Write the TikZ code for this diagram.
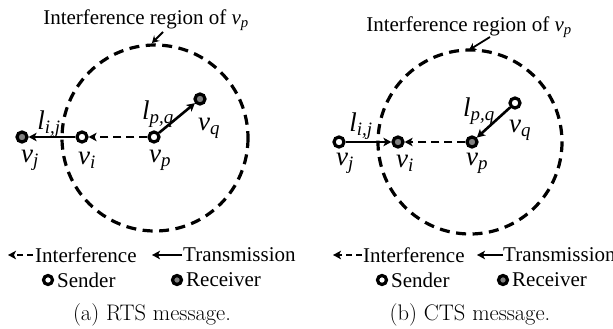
\documentclass[tikz,border=0pt]{standalone}
\usepackage{fontspec}
\usetikzlibrary{arrows.meta}
\newfontfamily\tms{Liberation Serif}
% italic variable with italic subscript
\newcommand{\vsub}[2]{\textit{#1}\textsubscript{\textit{#2}}}
\tikzset{
  nd/.style={circle,draw=black,line width=3.2pt,minimum size=10pt,inner sep=0pt},
  sendernd/.style={nd,fill=white},
  recvnd/.style={nd,fill=gray},
  region/.style={line width=3.2pt,dash pattern=on 10pt off 6.5pt},
  tx/.style={line width=2.6pt,-{Stealth[length=8pt,width=8.5pt,inset=2pt]}},
  intf/.style={line width=2.6pt,dash pattern=on 8pt off 5pt,-{Stealth[length=8pt,width=8.5pt,inset=2pt]}},
  ptr/.style={line width=1.8pt,-{Stealth[length=7pt,width=8pt,inset=2.5pt]}},
  lbl/.style={font=\tms\fontsize{27}{30}\selectfont,inner sep=0pt},
  ttl/.style={font=\tms\fontsize{21}{24}\selectfont,inner sep=0pt},
  leg/.style={font=\tms\fontsize{21}{24}\selectfont,inner sep=0pt,anchor=west},
  legnd/.style={circle,draw=black,line width=3.2pt,minimum size=9pt,inner sep=0pt},
  captxt/.style={font=\fontsize{22.5}{26}\selectfont,inner sep=0pt}
}
\begin{document}
\begin{tikzpicture}[x=1pt,y=-1pt]
\useasboundingbox (0,0) rectangle (613,329);

% ---------------- (a) RTS message ----------------
\coordinate (ca) at (155,138);
\draw[region] (ca) circle (93);
\node[ttl] (ta) at (146,20) {Interference region of \vsub{v}{p}};
\coordinate (tas) at (163,32);
\coordinate (tae) at (152,43);
\draw[ptr] (tas) -- (tae);

\node[recvnd]   (aj) at (22,137) {};
\node[sendernd] (ai) at (82,137) {};
\node[sendernd] (ap) at (154,137) {};
\node[recvnd]   (aq) at (200,99) {};

\draw[tx] (ai) -- (aj);
\draw[intf] (ap) -- (ai);
\draw[tx] (ap) -- (aq);

\node[lbl] (laj) at (30,160) {\vsub{v}{j}};
\node[lbl] (lai) at (87,160) {\vsub{v}{i}};
\node[lbl] (lap) at (160,160) {\vsub{v}{p}};
\node[lbl] (laq) at (209,128) {\vsub{v}{q}};
\node[lbl] (laij) at (49,124) {\vsub{l}{i,j}};
\node[lbl] (lapq) at (158,114) {\vsub{l}{p,q}};

% legend (a)
\coordinate (ai1) at (33,255); \coordinate (ai2) at (8,255);
\draw[intf,dash pattern=on 6pt off 4pt] (ai1) -- (ai2);
\node[leg] (lgai) at (35,255) {Interference};
\coordinate (at1) at (182,255); \coordinate (at2) at (152,255);
\draw[tx] (at1) -- (at2);
\node[leg] (lgat) at (183,255) {Transmission};
\node[legnd,fill=white] (sa) at (48,280) {};
\node[leg] (lgsa) at (57,280) {Sender};
\node[legnd,fill=gray] (ra) at (177,280) {};
\node[leg] (lgra) at (186,280) {Receiver};

\node[captxt] (capa) at (152,315) {(a) RTS message.};

% ---------------- (b) CTS message ----------------
\coordinate (cb) at (470,142);
\draw[region] (cb) circle (92);
\node[ttl] (tb) at (469,27) {Interference region of \vsub{v}{p}};
\coordinate (tbs) at (490,37);
\coordinate (tbe) at (469,50);
\draw[ptr] (tbs) -- (tbe);

\node[sendernd] (bj) at (339,142) {};
\node[recvnd]   (bi) at (398,142) {};
\node[recvnd]   (bp) at (472,142) {};
\node[sendernd] (bq) at (515,103) {};

\draw[tx] (bj) -- (bi);
\draw[intf] (bp) -- (bi);
\draw[tx] (bq) -- (bp);

\node[lbl] (lbj) at (345,163) {\vsub{v}{j}};
\node[lbl] (lbi) at (405,163) {\vsub{v}{i}};
\node[lbl] (lbp) at (477,163) {\vsub{v}{p}};
\node[lbl] (lbq) at (520,130) {\vsub{v}{q}};
\node[lbl] (lbij) at (361,126) {\vsub{l}{i,j}};
\node[lbl] (lbpq) at (479,111) {\vsub{l}{p,q}};

% legend (b)
\coordinate (bi1) at (362,255); \coordinate (bi2) at (333,255);
\draw[intf,dash pattern=on 6pt off 4pt] (bi1) -- (bi2);
\node[leg] (lgbi) at (363,255) {Interference};
\coordinate (bt1) at (503,255); \coordinate (bt2) at (477,255);
\draw[tx] (bt1) -- (bt2);
\node[leg] (lgbt) at (503,255) {Transmission};
\node[legnd,fill=white] (sb) at (382,280) {};
\node[leg] (lgsb) at (391,280) {Sender};
\node[legnd,fill=gray] (rb) at (503,280) {};
\node[leg] (lgrb) at (512,280) {Receiver};

\node[captxt] (capb) at (470,315) {(b) CTS message.};
\end{tikzpicture}
\end{document}
